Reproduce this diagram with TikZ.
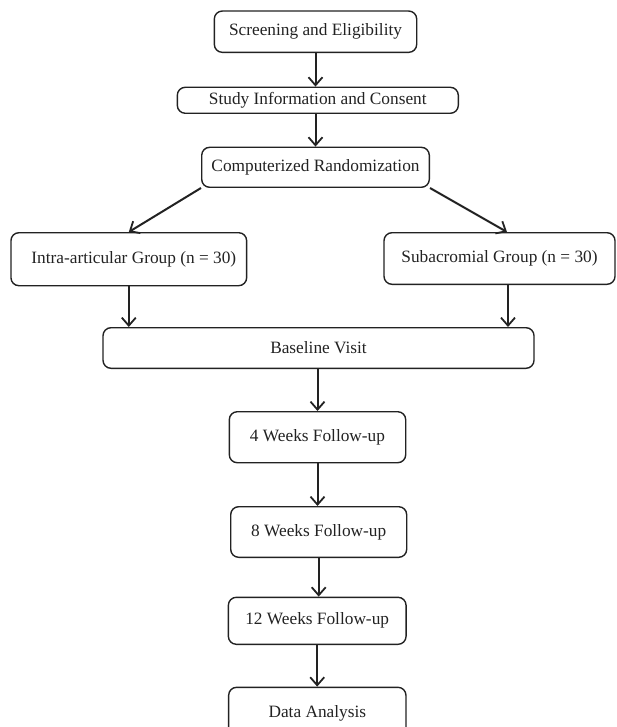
\documentclass[tikz,border=0pt]{standalone}
\usepackage{fontspec}
\setmainfont{Liberation Serif}
\usetikzlibrary{arrows.meta}
\definecolor{ink}{HTML}{222222}
\begin{document}
\begin{tikzpicture}[x=1pt,y=-1pt,
  box/.style={draw=ink,line width=1.4pt,rounded corners=8pt,text=ink,inner sep=0pt,
    font=\fontsize{17.3}{20}\selectfont},
  arr/.style={draw=ink,line width=2pt,-{Straight Barb[length=8pt,width=14pt,line width=1.8pt]}}]
\useasboundingbox (0,0) rectangle (616,727);
\clip (0,0) rectangle (616,727);
\node[box,minimum width=202.4pt,minimum height=41.3pt] (scr) at (315.5,31.7) {Screening and Eligibility};
\node[box,minimum width=281pt,minimum height=26pt] (study) at (317.8,100.3) {Study Information and Consent};
\node[box,minimum width=227.6pt,minimum height=40pt] (comp) at (315.5,167.3) {Computerized Randomization};
\node[box,minimum width=235.7pt,minimum height=53pt] (intra) at (128.8,259.2) {\hspace*{10pt}Intra-articular Group (n = 30)};
\node[box,minimum width=231pt,minimum height=51.6pt] (sub) at (499.5,258.5) {Subacromial Group (n = 30)};
\node[box,minimum width=431pt,minimum height=40.6pt] (base) at (318.5,348) {Baseline Visit};
\node[box,minimum width=176.4pt,minimum height=51pt] (w4) at (317.5,437.2) {4 Weeks Follow-up};
\node[box,minimum width=176pt,minimum height=50.6pt] (w8) at (318.7,532) {8 Weeks Follow-up};
\node[box,minimum width=177.7pt,minimum height=47pt] (w12) at (317.2,620.8) {12 Weeks Follow-up};
\node[box,minimum width=177.3pt,minimum height=52pt] (da) at (317.3,713.3) {Data Analysis};
\draw[arr] (scr.south) -- (scr.south |- study.north);
\draw[arr] (scr.south |- study.south) -- (scr.south |- comp.north);
\draw[arr] (comp.south west) -- (intra.north);
\draw[arr] (comp.south east) -- ([xshift=7.5pt]sub.north);
\draw[arr] (intra.south) -- (intra.south |- base.north);
\draw[arr] ([xshift=8.5pt]sub.south) -- ([xshift=8.5pt]sub.south |- base.north);
\draw[arr] (w4.north |- base.south) -- (w4.north);
\draw[arr] (w4.south) -- (w4.south |- w8.north);
\draw[arr] (w8.south) -- (w8.south |- w12.north);
\draw[arr] (w12.south) -- (w12.south |- da.north);
\end{tikzpicture}
\end{document}
